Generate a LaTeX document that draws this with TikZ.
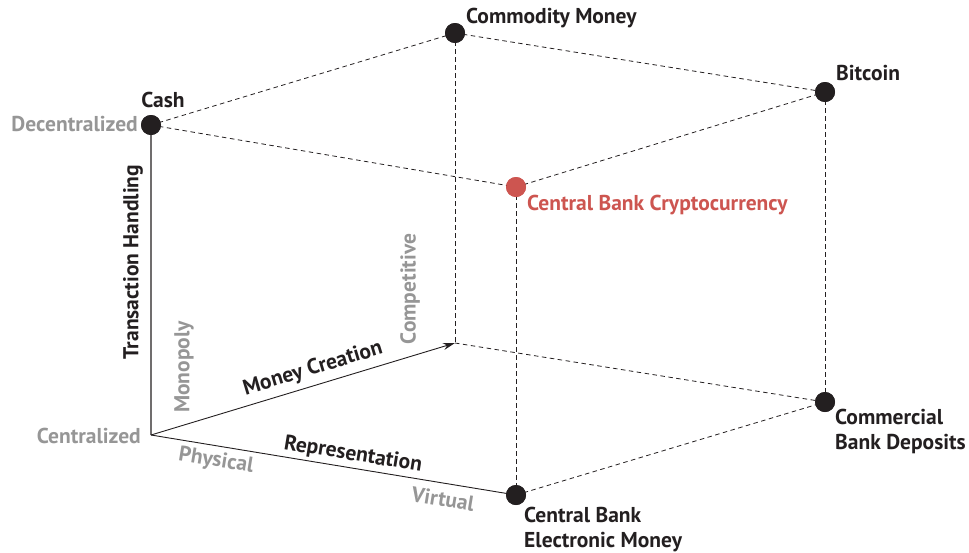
\documentclass[tikz,border=0pt]{standalone}
\usepackage{fontspec}
\setmainfont{PT Sans}
\usetikzlibrary{arrows.meta}
\definecolor{dotblack}{RGB}{35,31,32}
\definecolor{labgray}{RGB}{150,150,150}
\definecolor{cbred}{RGB}{205,85,80}
\tikzset{
  dot/.style={circle,fill=dotblack,inner sep=0pt,minimum size=20pt},
  reddot/.style={circle,fill=cbred,inner sep=0pt,minimum size=20pt},
  dashedge/.style={dashed,dash pattern=on 4.5pt off 3.5pt,line width=0.8pt,dotblack},
  lab/.style={font=\fontsize{21.5}{25}\selectfont\bfseries,text=dotblack,inner sep=0pt},
  glab/.style={font=\fontsize{21.5}{25}\selectfont\bfseries,text=labgray,inner sep=0pt},
  rlab/.style={font=\fontsize{21.5}{25}\selectfont\bfseries,text=cbred,inner sep=0pt},
  axis/.style={line width=0.9pt,dotblack}
}
\begin{document}
\begin{tikzpicture}[x=1pt,y=-1pt]
\useasboundingbox (0,0) rectangle (969,552);
% corners
\coordinate (O) at (151,435);
\coordinate (BK) at (455,343);
\node[dot] (cash) at (151,125) {};
\node[dot] (cm) at (455,33) {};
\node[dot] (bc) at (825,92) {};
\node[reddot] (cbc) at (516,187) {};
\node[dot] (cbd) at (825,402) {};
\node[dot] (cbem) at (516,495) {};
% dashed edges
\draw[dashedge] (cash.center) -- (cm.center);
\draw[dashedge] (cash.center) -- (cbc.center);
\draw[dashedge] (cm.center) -- (bc.center);
\draw[dashedge] (cbc.center) -- (bc.center);
\draw[dashedge] (cm.center) -- (BK);
\draw[dashedge] (bc.center) -- (cbd.center);
\draw[dashedge] (cbc.center) -- (cbem.center);
\draw[dashedge] (BK) -- (cbd.center);
\draw[dashedge] (cbem.center) -- (cbd.center);
% solid axes
\draw[line width=2pt,color=dotblack!65] (O) -- (cash.center);
\draw[axis] (O) -- (cbem.center);
\draw[axis,-{Stealth[length=12pt,width=7pt]}] (O) -- (BK);
% redraw dots on top
\node[dot] at (cash) {};
\node[dot] at (cm) {};
\node[dot] at (bc) {};
\node[reddot] at (cbc) {};
\node[dot] at (cbd) {};
\node[dot] at (cbem) {};
% labels
\node[lab] (tcash) at (163,100) {Cash};
\node[glab,anchor=east] (tdec) at (138,124) {Decentralized};
\node[lab,anchor=west] (tcm) at (466,18) {Commodity Money};
\node[lab,anchor=west] (tbc) at (836,73) {Bitcoin};
\node[rlab,anchor=west] (tcbc) at (527,205) {Central Bank Cryptocurrency};
\node[lab,anchor=north west,align=left] (tcbd) at (835,409) {Commercial\\Bank Deposits};
\node[lab,anchor=north west,align=left] (tcbem) at (524,507) {Central Bank\\Electronic Money};
\node[glab,anchor=east] (tcen) at (141,436) {Centralized};
\node[lab,rotate=90] (tth) at (133,262) {Transaction Handling};
\node[glab,rotate=90] (tmon) at (184,367) {Monopoly};
\node[glab,rotate=90] (tcomp) at (410,289) {Competitive};
\node[lab,rotate=16.8] (tmc) at (313,369) {Money Creation};
\node[lab,rotate=-9.3] (trep) at (353,455) {Representation};
\node[glab,rotate=-9.3] (tphy) at (216,461) {Physical};
\node[glab,rotate=-9.3] (tvir) at (443,499) {Virtual};
\end{tikzpicture}
\end{document}
